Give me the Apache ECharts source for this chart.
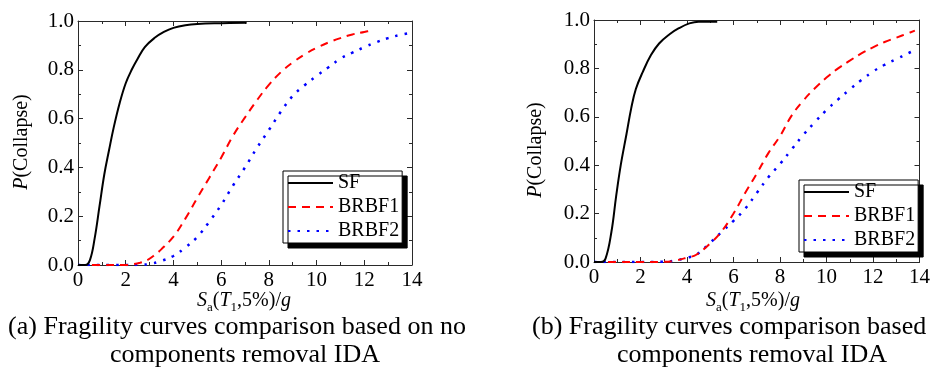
<!DOCTYPE html>
<html>
<head>
<meta charset="utf-8">
<script src="https://cdn.jsdelivr.net/npm/echarts@6/dist/echarts.min.js"></script>
<style>
  html, body { margin: 0; padding: 0; background: #fff; }
  #chart { width: 933px; height: 385px; }
</style>
</head>
<body>
<div id="chart"></div>
<script>
// Collapse fragility curves, P(Collapse) vs Sa(T1,5%)/g, as [Sa, P] pairs.

// (a) IDA without component removal
const sfA = [[0,0],[0.3,0],[0.5,0.02],[0.7,0.11],[0.9,0.24],[1.1,0.37],[1.3,0.47],[1.5,0.565],
  [1.75,0.665],[2.0,0.745],[2.25,0.8],[2.5,0.845],[2.8,0.893],[3.2,0.93],[3.6,0.955],[4.0,0.972],
  [4.5,0.983],[5.0,0.988],[6.0,0.991],[7.07,0.993]];
const brbf1A = [[0,0],[1,0],[2,0],[2.3,0.003],[2.6,0.009],[2.9,0.02],[3.2,0.04],[3.5,0.065],
  [4.0,0.116],[4.5,0.19],[5.0,0.275],[5.5,0.357],[6.0,0.44],[6.5,0.53],[7.0,0.605],[7.5,0.675],
  [8.0,0.738],[8.5,0.79],[9.0,0.83],[9.5,0.863],[10.0,0.89],[10.5,0.912],[11.0,0.93],[11.5,0.945],
  [12.0,0.955],[12.4,0.963]];
const brbf2A = [[0,0],[2,0],[2.6,0.001],[3.0,0.004],[3.5,0.017],[4.0,0.037],[4.5,0.072],[5.0,0.115],
  [5.5,0.177],[6.0,0.246],[6.5,0.326],[7.0,0.4],[7.5,0.48],[8.0,0.553],[8.5,0.628],[9.0,0.693],
  [9.5,0.737],[10.0,0.775],[10.5,0.81],[11.0,0.846],[11.5,0.87],[12.0,0.893],[12.5,0.913],
  [13.0,0.93],[13.5,0.943],[13.85,0.95]];

// (b) IDA with component removal
const sfB = [[0,0],[0.3,0],[0.5,0.015],[0.75,0.125],[0.95,0.27],[1.15,0.4],[1.4,0.53],[1.6,0.635],
  [1.8,0.715],[2.1,0.786],[2.45,0.855],[2.8,0.903],[3.25,0.941],[3.65,0.966],[4.1,0.986],
  [4.5,0.993],[5.3,0.993]];
const brbf1B = [[0,0],[1,0],[2,0],[3,0.001],[3.5,0.006],[4.0,0.018],[4.4,0.03],[5.0,0.077],
  [5.5,0.128],[6.0,0.2],[6.5,0.285],[7.0,0.365],[7.5,0.45],[8.0,0.52],[8.5,0.605],[9.0,0.667],
  [9.5,0.718],[10.0,0.762],[10.5,0.8],[11.0,0.832],[11.5,0.862],[12.0,0.887],[12.5,0.909],
  [13.0,0.927],[13.5,0.945],[13.8,0.956]];
const brbf2B = [[0,0],[1,0],[2,0],[3,0.001],[3.5,0.006],[4.0,0.018],[4.4,0.03],[5.0,0.08],
  [5.5,0.125],[6.0,0.17],[6.5,0.22],[7.0,0.285],[7.5,0.35],[8.0,0.405],[8.5,0.465],[9.0,0.525],
  [9.5,0.578],[10.0,0.628],[10.5,0.672],[11.0,0.713],[11.5,0.752],[12.0,0.787],[12.5,0.815],
  [13.0,0.838],[13.5,0.862],[13.75,0.873]];

const seriesNames = ['SF', 'BRBF1', 'BRBF2'];
const xRange = [0, 14, 2];      // min, max, step
const yRange = [0, 1, 0.2];
const captionA = ['(a) Fragility curves comparison based on no', 'components removal IDA'];
const captionB = ['(b) Fragility curves comparison based', 'components removal IDA'];

const SERIF = 'Liberation Serif';
const AXIS_COLOR = '#2a2a2a';

const grids = [
  { left: 78, top: 21, width: 334, height: 244 },
  { left: 594, top: 20, width: 328, height: 242 }
];

function xAxisFor(gi, pos) {
  return {
    type: 'value', gridIndex: gi, position: pos,
    min: xRange[0], max: xRange[1], interval: xRange[2],
    axisLine: { onZero: false, lineStyle: { color: AXIS_COLOR, width: 1 } },
    axisTick: { inside: true, length: 5, lineStyle: { color: AXIS_COLOR } },
    minorTick: { show: true, splitNumber: 2, length: 3, lineStyle: { color: AXIS_COLOR } },
    axisLabel: { show: pos === 'bottom', fontFamily: SERIF, fontSize: 21, color: '#000', margin: 5 },
    splitLine: { show: false }
  };
}
function yAxisFor(gi, pos) {
  return {
    type: 'value', gridIndex: gi, position: pos,
    min: yRange[0], max: yRange[1], interval: yRange[2],
    axisLine: { onZero: false, lineStyle: { color: AXIS_COLOR, width: 1 } },
    axisTick: { inside: true, length: 5, lineStyle: { color: AXIS_COLOR } },
    minorTick: { show: true, splitNumber: 2, length: 3, lineStyle: { color: AXIS_COLOR } },
    axisLabel: { show: pos === 'left', fontFamily: SERIF, fontSize: 21, color: '#000', margin: 4,
      formatter: v => v.toFixed(1) },
    splitLine: { show: false }
  };
}

const styles = [
  { color: '#000000', type: 'solid', width: 2 },
  { color: '#ff0000', type: [8, 6], width: 2 },
  { color: '#0000ff', type: [2.5, 7], width: 2.5 }
];

function lineSeries(name, data, gi, k) {
  return {
    type: 'line', name: name, data: data,
    xAxisIndex: gi * 2, yAxisIndex: gi * 2,
    symbol: 'none', smooth: 0.4,
    lineStyle: styles[k], itemStyle: { color: styles[k].color },
    z: 3 - k, animation: false
  };
}

function legendFor(left, top) {
  return {
    data: seriesNames, orient: 'vertical', left: left, top: top,
    itemWidth: 45, itemHeight: 14, itemGap: 2,
    padding: [1, 3, 1, 4],
    backgroundColor: '#fff', borderColor: '#000', borderWidth: 1,
    shadowColor: '#000', shadowBlur: 0, shadowOffsetX: 5, shadowOffsetY: 5,
    itemStyle: { color: 'rgba(0,0,0,0)', borderColor: 'rgba(0,0,0,0)', borderWidth: 0, opacity: 0 },
    textStyle: { fontFamily: SERIF, fontSize: 20, color: '#000', lineHeight: 22 },
    selectedMode: false
  };
}

const rich = {
  n: { fontFamily: SERIF, fontSize: 20, color: '#000', lineHeight: 26 },
  i: { fontFamily: SERIF, fontSize: 20, color: '#000', fontStyle: 'italic', lineHeight: 26 },
  s: { fontFamily: SERIF, fontSize: 13, color: '#000', lineHeight: 13, padding: [14, 0, 0, 0] }
};

function text(x, y, str, opts) {
  return {
    type: 'text', x: x, y: y,
    style: Object.assign({ text: str, fill: '#000', fontFamily: SERIF, fontSize: 26,
      align: 'center', verticalAlign: 'middle', rich: rich }, opts || {})
  };
}
function rotated(x, y, str) {
  const t = text(x, y, str);
  t.rotation = Math.PI / 2;
  return t;
}

const xTitle = '{i|S}{s|a}{n|(}{i|T}{s|1}{n|,5%)/}{i|g}';
const yTitle = '{i|P}{n|(Collapse)}';

const option = {
  backgroundColor: '#fff',
  animation: false,
  grid: grids,
  xAxis: [xAxisFor(0, 'bottom'), xAxisFor(0, 'top'), xAxisFor(1, 'bottom'), xAxisFor(1, 'top')],
  yAxis: [yAxisFor(0, 'left'), yAxisFor(0, 'right'), yAxisFor(1, 'left'), yAxisFor(1, 'right')],
  legend: [legendFor(283, 171), legendFor(799, 180)],
  series: [
    lineSeries('SF', sfA, 0, 0), lineSeries('BRBF1', brbf1A, 0, 1), lineSeries('BRBF2', brbf2A, 0, 2),
    lineSeries('SF', sfB, 1, 0), lineSeries('BRBF1', brbf1B, 1, 1), lineSeries('BRBF2', brbf2B, 1, 2)
  ],
  graphic: [
    text(244, 301, xTitle),
    text(753, 301, xTitle),
    rotated(22, 142, yTitle),
    rotated(536, 150, yTitle),
    text(237, 327, captionA[0]),
    text(245, 355, captionA[1]),
    text(532, 327, captionB[0], { align: 'left' }),
    text(752, 355, captionB[1])
  ]
};

const chart = echarts.init(document.getElementById('chart'), null, { renderer: 'canvas' });
chart.setOption(option);
</script>
</body>
</html>
